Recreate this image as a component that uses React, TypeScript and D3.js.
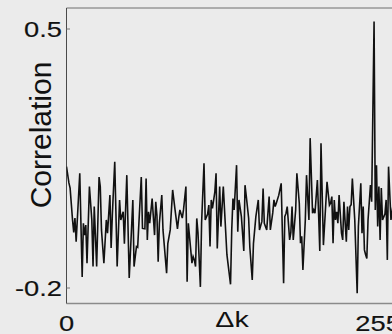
import * as d3 from 'd3';
import React, { useEffect, useRef } from 'react';

// lag values (Δk) and the correlation read at each one
const deltaK = [
  0, 2, 3, 5, 6, 7, 8, 11, 13, 14, 15, 16, 17, 19, 21, 22, 23, 25, 27, 28, 29, 31, 33, 34, 36, 37, 38, 40, 42, 44,
  45, 47, 48, 50, 52, 54, 55, 56, 58, 59, 62, 63, 65, 66, 67, 68, 69, 71, 73, 74, 75, 76, 77, 79, 80, 83, 84, 86, 88,
  90, 92, 93, 94, 96, 97, 99, 100, 101, 103, 104, 105, 106, 107, 108, 109, 111, 112, 114, 115, 117, 118, 119, 120, 121,
  123, 124, 125, 127, 128, 130, 133, 136, 137, 138, 139, 141, 142, 143, 145, 147, 148, 149, 151, 152, 154, 155, 157,
  159, 160, 162, 163, 164, 166, 168, 169, 171, 172, 173, 174, 176, 178, 180, 181, 182, 183, 185, 186, 187, 188, 190,
  191, 193, 194, 195, 196, 198, 199, 201, 202, 204, 205, 206, 208, 209, 210, 211, 213, 215, 216, 218, 219, 220, 221,
  222, 223, 224, 225, 226, 228, 229, 230, 232, 233, 234, 235, 236, 237, 239, 241, 242, 244, 245, 246, 247, 248, 249,
  250, 252, 253, 255, 256, 257, 258, 259, 260, 261, 262, 264, 265, 266, 267, 269, 271, 273, 275,
];

const corr = [
  0.128, 0.084, 0.07, -0.016, -0.05, -0.011, -0.075, 0.11, -0.17, -0.025, -0.057, -0.03, -0.133, 0.074, -0.016, -0.142,
  0.02, -0.142, 0.1, 0.074, -0.043, -0.133, -0.016, -0.052, 0.051, -0.092, -0.003, 0.141, -0.142, 0.038,
  -0.016, 0.006, -0.08, 0.105, -0.173, -0.034, 0.038, -0.142, -0.088, -0.09, 0.1, -0.039, -0.04, 0.096, -0.07, 0.006,
  -0.025, 0.042, -0.057, 0.033, -0.005, -0.129, -0.025, 0.051, -0.043, -0.16, -0.08, -0.043, 0.065,
  0.011, -0.04, -0.011, 0.011, -0.011, 0.011, 0.074, -0.183, -0.025, -0.097, -0.133, -0.115, -0.124, -0.142, -0.012,
  -0.05, -0.197, -0.025, 0.137, -0.016, 0.0, 0.024, -0.088, 0.038, 0.015, 0.06, 0.11, -0.093, 0.074, -0.034, 0.074,
  -0.11, -0.19, -0.043, 0.042, 0.011, 0.132, -0.048, 0.038, -0.007, -0.1, 0.078, 0.05, -0.011, -0.09, -0.178, -0.08,
  -0.007, 0.038, -0.043, -0.02, 0.069, -0.025, -0.043, 0.047, -0.043, 0.003, 0.038, 0.02, 0.03, 0.051, 0.083,
  -0.187, -0.007, 0.002, 0.02, -0.07, -0.05, 0.02, -0.07, 0.011, 0.11, 0.029, -0.079, -0.06, -0.151, -0.016, 0.105,
  -0.016, 0.205, 0.002, 0.011, 0.002, 0.092, 0.0, -0.1, 0.191, -0.084, 0.029, 0.087, 0.024, 0.03, 0.047, -0.079,
  0.038, -0.016, 0.006, -0.025, 0.051, -0.052, -0.07, 0.033, -0.075, 0.02, -0.043, 0.02, 0.025, 0.096, -0.016, -0.214,
  -0.034, 0.083, -0.052, 0.02, -0.097, -0.11, -0.12, -0.016, 0.078, 0.033, 0.52, 0.011, 0.132, -0.034, 0.074, -0.07,
  0.07, -0.016, 0.0, 0.038, -0.124, 0.128, -0.016, 0.03, -0.06, 0.05,
];

const yTicks = [-0.2, 0.5];
const xTicks = [0, 255];

const W = 392;
const H = 334;

export default function App() {
  const ref = useRef<SVGSVGElement>(null);

  useEffect(() => {
    const svg = d3.select(ref.current);
    svg.selectAll('*').remove();

    // plot box (right side runs past the window)
    const left = 66.5;
    const right = 400;
    const top = 8;
    const bottom = 303.5;

    const x = d3.scaleLinear().domain([0, 276.5]).range([left, right]);
    const y = d3.scaleLinear().domain([-0.2, 0.5]).range([288, 29]);

    svg.append('rect').attr('width', W).attr('height', H).attr('fill', '#ebebeb');

    svg.append('clipPath').attr('id', 'plotclip')
      .append('rect')
      .attr('x', left).attr('y', top)
      .attr('width', right - left).attr('height', bottom - top);

    // frame
    svg.append('line').attr('x1', left).attr('x2', right).attr('y1', top).attr('y2', top)
      .attr('stroke', '#6e6e6e').attr('stroke-width', 1);
    svg.append('line').attr('x1', left).attr('x2', right).attr('y1', bottom).attr('y2', bottom)
      .attr('stroke', '#8a8a8a').attr('stroke-width', 1.5);
    svg.append('line').attr('x1', left).attr('x2', left).attr('y1', top).attr('y2', bottom)
      .attr('stroke', '#4a4a4a').attr('stroke-width', 1);

    // inward y ticks
    svg.selectAll('.ytick').data(yTicks).enter()
      .append('line')
      .attr('x1', left).attr('x2', left + 3.5)
      .attr('y1', d => y(d)).attr('y2', d => y(d))
      .attr('stroke', '#777').attr('stroke-width', 1);

    const font = "'Liberation Sans', Arial, sans-serif";

    svg.selectAll('.ylab').data(yTicks).enter()
      .append('text')
      .attr('transform', d => `translate(62,${y(d) + 7.8}) scale(1.27,1)`)
      .attr('text-anchor', 'end')
      .attr('font-family', font)
      .attr('font-size', 21.5)
      .attr('fill', '#111')
      .attr('stroke', '#111')
      .attr('stroke-width', 0.15)
      .text(d => String(d));

    svg.selectAll('.xlab').data(xTicks).enter()
      .append('text')
      .attr('transform', (d, i) => `translate(${x(d) + (i === 1 ? 4 : 0)},330.5) scale(1.27,1)`)
      .attr('text-anchor', 'middle')
      .attr('font-family', font)
      .attr('font-size', 21.5)
      .attr('fill', '#111')
      .attr('stroke', '#111')
      .attr('stroke-width', 0.15)
      .text(d => String(d));

    // axis titles
    svg.append('text')
      .attr('transform', `translate(232,327) scale(1.3,1)`)
      .attr('text-anchor', 'middle')
      .attr('font-family', font)
      .attr('font-size', 22)
      .attr('fill', '#111')
      .text('Δk');

    svg.append('text')
      .attr('transform', `translate(51,135) rotate(-90)`)
      .attr('text-anchor', 'middle')
      .attr('font-family', font)
      .attr('font-size', 30)
      .attr('fill', '#111')
      .text('Correlation');

    // the correlation trace
    const pts = deltaK.map((k, i) => [k, corr[i]] as [number, number]);
    const line = d3.line<[number, number]>()
      .x(d => x(d[0]))
      .y(d => y(d[1]));

    svg.append('path')
      .attr('d', line(pts))
      .attr('clip-path', 'url(#plotclip)')
      .attr('fill', 'none')
      .attr('stroke', '#111')
      .attr('stroke-width', 1.6)
      .attr('stroke-linejoin', 'miter');
  }, []);

  return (
    <svg
      ref={ref}
      width={W}
      height={H}
      style={{ position: 'absolute', left: 0, top: 0, display: 'block' }}
    />
  );
}
